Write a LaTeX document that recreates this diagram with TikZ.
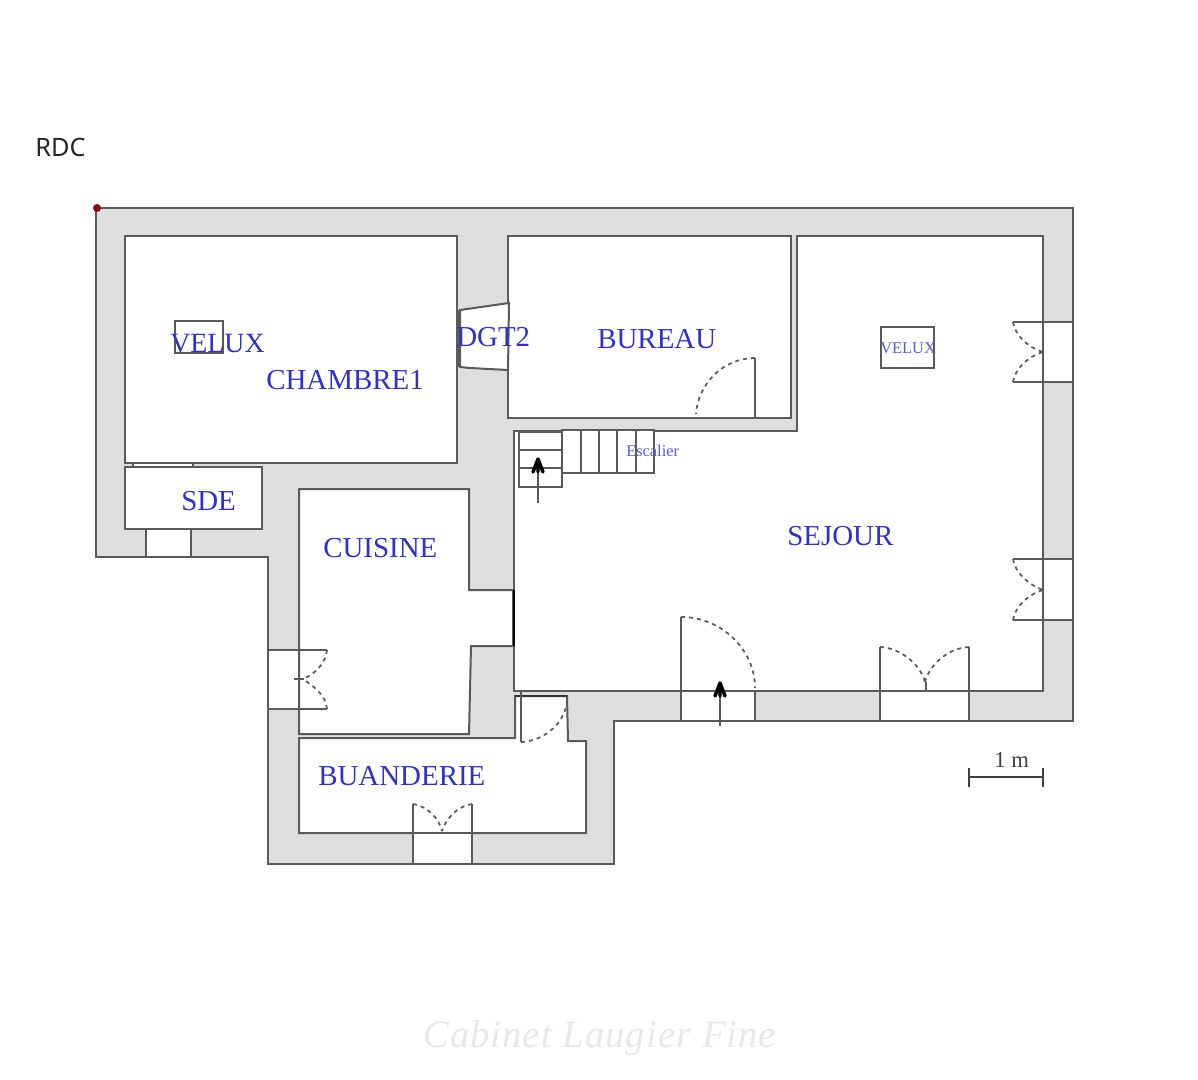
\documentclass[tikz,border=0pt]{standalone}
\usepackage{fontspec}
\setmainfont{Liberation Serif}
\newfontfamily\rdcfont{Noto Sans}
\newfontfamily\markfont[LetterSpace=2.7]{Liberation Serif Italic}
\definecolor{wallfill}{HTML}{DEDEDE}
\definecolor{wallline}{HTML}{5A5A5A}
\definecolor{labelblue}{HTML}{3030D0}
\definecolor{smallblue}{HTML}{5A5AE0}
\definecolor{markred}{HTML}{8B0A0A}
\tikzset{
 wall/.style={draw=wallline,line width=1.5pt,fill=wallfill,line join=miter},
 room/.style={draw=wallline,line width=1.5pt,fill=white},
 opening/.style={fill=white,draw=none},
 jamb/.style={draw=wallline,line width=1.5pt},
 swing/.style={draw=wallline,line width=1.3pt,dash pattern=on 3pt off 3pt},
 roomlabel/.style={anchor=base west,inner sep=0pt,text=labelblue,font=\fontsize{21.7pt}{24pt}\selectfont},
 smalllabel/.style={anchor=base west,inner sep=0pt,text=smallblue,font=\fontsize{12.3pt}{14pt}\selectfont},
 uparrow/.style={draw=wallline,line width=1.5pt},
 uptip/.style={draw=black,line width=2.6pt,line cap=round,line join=round}
}
\begin{document}
\begin{tikzpicture}[x=0.75pt,y=-0.75pt]
\useasboundingbox[fill=white] (0,0) rectangle (1198,1080);
% outer walls
\draw[wall] (96,208) -- (1073,208) -- (1073,721) -- (614,721) -- (614,864) -- (268,864) -- (268,557) -- (96,557) -- cycle;
% rooms
\draw[room] (125,236) rectangle (457,463);
\draw[room] (125,467) rectangle (262,529);
\fill[white] (133,463.8) rectangle (193,466.2);
\draw[jamb] (133,462) -- (133,467) (193,462) -- (193,467);
\draw[room] (299,489) -- (469,489) -- (469,590) -- (513,590) -- (513,646) -- (471,646) -- (469,734) -- (299,734) -- cycle;
\draw[room] (299,738) -- (515,738) -- (515,696) -- (567,696) -- (568,741) -- (586,741) -- (586,833) -- (299,833) -- cycle;
\draw[room] (508,236) rectangle (791,418);
\draw[room] (797,236) -- (1043,236) -- (1043,691) -- (514,691) -- (514,431) -- (797,431) -- cycle;
\draw[room] (460,310) -- (509,303) -- (508,370) -- (470,368) -- (460,367) -- cycle;
\draw[draw=wallline,line width=2.6pt] (458.5,310) -- (458.5,367);
\draw[draw=black,line width=1.3pt] (514,590) -- (514,646);
\draw[draw=black!80,line width=1.3pt] (515,696) -- (567,696);
% SDE window
\fill[opening] (147,529.8) rectangle (191,556.2);
\draw[jamb] (146,529) -- (146,557) (191,529) -- (191,557);
% cuisine window
\fill[opening] (268.8,650) rectangle (299.8,709);
\draw[jamb] (268,650) -- (327,650) (268,709) -- (327,709);
\draw[jamb] (299,650) -- (299,709);
\draw[swing] (327,650) .. controls (326,663) and (315,674) .. (303,679);
\draw[swing] (327,709) .. controls (326,696) and (315,687) .. (303,679);
\draw[jamb] (294,679) -- (304,679);
% buanderie door to sejour
\draw[jamb] (521,692) -- (521,742);
\draw[swing] (567,700) .. controls (566,722) and (545,741) .. (521,742);
% buanderie double door
\fill[opening] (413,834) rectangle (472,863.2);
\draw[jamb] (413,804) -- (413,864) (472,804) -- (472,864);
\draw[swing] (413,804) .. controls (427,806) and (439,818) .. (442,831);
\draw[swing] (472,804) .. controls (458,806) and (446,818) .. (442,831);
% bureau door
\draw[jamb] (755,358) -- (755,418);
\draw[swing] (755,358) .. controls (723,358) and (698,384) .. (696,414);
% right windows
\fill[opening] (1044,322) rectangle (1072.2,382);
\draw[jamb] (1013,322) -- (1073,322) (1013,382) -- (1073,382);
\draw[swing] (1013,322) .. controls (1015,335) and (1027,347) .. (1043,352);
\draw[swing] (1013,382) .. controls (1015,369) and (1027,357) .. (1043,352);
\fill[opening] (1044,559) rectangle (1072.2,620);
\draw[jamb] (1013,559) -- (1073,559) (1013,620) -- (1073,620);
\draw[swing] (1013,559) .. controls (1015,572) and (1027,584) .. (1043,590);
\draw[swing] (1013,620) .. controls (1015,607) and (1027,595) .. (1043,590);
% bottom double door
\fill[opening] (880,692) rectangle (969,720.2);
\draw[jamb] (880,647) -- (880,721) (969,647) -- (969,721);
\draw[swing] (880,647) .. controls (902,648) and (921,666) .. (925,682);
\draw[swing] (969,647) .. controls (947,648) and (929,666) .. (925,682);
\draw[jamb] (926,682) -- (926,691);
% main door
\fill[opening] (681,692) rectangle (755,720.2);
\draw[jamb] (681,617) -- (681,721) (755,691) -- (755,721);
\draw[swing] (681,617) .. controls (722,617) and (755,650) .. (755,688);
% stairs
\draw[room] (519,432) rectangle (562,487);
\draw[jamb] (519,450) -- (562,450) (519,468) -- (562,468);
\draw[room] (562,430) rectangle (654,473);
\draw[jamb] (581,430) -- (581,473) (599,430) -- (599,473) (617,430) -- (617,473) (636,430) -- (636,473);
\coordinate (stairfoot) at (538,503);
\coordinate (stairhead) at (538,459);
\draw[uparrow] (stairfoot) -- (stairhead);
\draw[uptip] (533,472) -- (538,459) -- (543,472) (538,459) -- (538,472);
% entry arrow
\coordinate (entryfoot) at (720,726);
\coordinate (entryhead) at (720,683);
\draw[uparrow] (entryfoot) -- (entryhead);
\draw[uptip] (715,696) -- (720,683) -- (725,696) (720,683) -- (720,696);
% velux
\draw[jamb] (175,321) rectangle (223,353);
\draw[jamb] (881,327) rectangle (934,368);
% scale
\coordinate (scaleL) at (969,777);
\coordinate (scaleR) at (1043,777);
\draw[draw=black!75,line width=1.8pt] (scaleL) -- (scaleR);
\draw[draw=black!75,line width=1.8pt] (969,768) -- (969,787) (1043,768) -- (1043,787);
% red dot
\fill[markred] (97,208) circle (4);
% labels
\node[anchor=base west,inner sep=0pt,text=black!85,font=\rdcfont\fontsize{19pt}{22pt}\selectfont] (rdc) at (35,156.5) {RDC};
\node[roomlabel,font=\fontsize{20.9pt}{24pt}\selectfont] (velux1) at (170,352) {VELUX};
\node[roomlabel] (chambre) at (266,389) {CHAMBRE1};
\node[roomlabel] (dgt) at (456,346) {DGT2};
\node[roomlabel] (bureau) at (597,348) {BUREAU};
\node[roomlabel] (sde) at (181,510) {SDE};
\node[roomlabel] (cuisine) at (323,557) {CUISINE};
\node[roomlabel] (sejour) at (787,545) {SEJOUR};
\node[roomlabel] (buanderie) at (318,785) {BUANDERIE};
\node[smalllabel] (velux2) at (880,353) {VELUX};
\node[smalllabel] (escalier) at (626,456) {Escalier};
\node[anchor=base west,inner sep=0pt,text=black!75,font=\fontsize{17pt}{18pt}\selectfont] (unit) at (994,767) {1 m};
\node[anchor=base west,inner sep=0pt,text=black!9,font=\markfont\fontsize{29pt}{32pt}\selectfont] (mark) at (423,1047) {Cabinet Laugier Fine};
\end{tikzpicture}
\end{document}
